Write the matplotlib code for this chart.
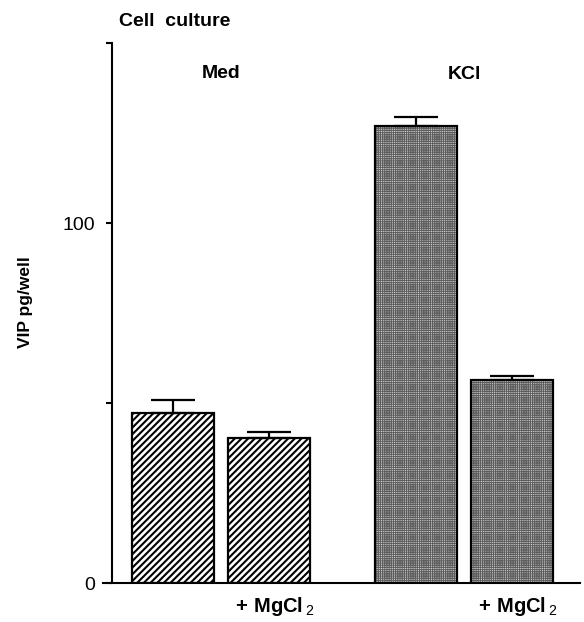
import matplotlib
matplotlib.use("Agg")
import matplotlib.pyplot as plt
from matplotlib.transforms import blended_transform_factory

plt.rcParams['font.family'] = ['Liberation Sans', 'DejaVu Sans']
plt.rcParams['mathtext.fontset'] = 'custom'
plt.rcParams['mathtext.rm'] = 'Liberation Sans'
plt.rcParams['mathtext.bf'] = 'Liberation Sans:bold'

# ---- data ----
groups = ["Med", "KCl"]
conditions = ["", "+ MgCl$_2$"]
positions = [0.0, 1.0, 2.52, 3.52]
values = [47.2, 40.3, 127.0, 56.4]
errors = [3.6, 1.6, 2.4, 1.1]
yticks = [0, 50, 100, 150]
yticklabels = ["0", "", "100", ""]

W, H = 584, 622
fig = plt.figure(figsize=(W / 100, H / 100), dpi=100)
ax_left, ax_right, ax_top, ax_bot = 103, 580, 43, 583
ax = fig.add_axes([ax_left / W, (H - ax_bot) / H, (ax_right - ax_left) / W, (ax_bot - ax_top) / H])

width = 0.85
# hatched (medium) bars
with plt.rc_context({'hatch.linewidth': 1.5}):
    ax.bar(positions[:2], values[:2], width=width, facecolor='white', edgecolor='black',
           hatch='/////', linewidth=0, zorder=2)
# stippled (KCl) bars
with plt.rc_context({'hatch.linewidth': 0.6}):
    ax.bar(positions[2:], values[2:], width=width, facecolor='#dadada', edgecolor='#5c5c5c',
           hatch='+++++++++', linewidth=0, zorder=2)
# outlines
ax.bar(positions, values, width=width, facecolor='none', edgecolor='black',
       linewidth=1.6, zorder=3)
# error bars (upper only)
ax.errorbar(positions, values, yerr=[[0] * 4, errors], fmt='none', ecolor='black',
            elinewidth=1.6, capsize=16, capthick=1.6, zorder=4)

ax.set_xlim(-0.725, 4.22)
ax.set_ylim(0, 150)
ax.set_yticks(yticks)
ax.set_yticklabels(yticklabels)
ax.set_xticks([])

for s in ['top', 'right']:
    ax.spines[s].set_visible(False)
ax.spines['left'].set_position(('axes', (112 - ax_left) / (ax_right - ax_left)))
ax.spines['left'].set_linewidth(1.5)
ax.spines['bottom'].set_linewidth(1.5)
ax.tick_params(axis='y', direction='out', length=4.5, width=1.5, pad=8, labelsize=14)

ax.set_ylabel("VIP pg/well", fontsize=12.5, fontweight='bold')
ax.yaxis.set_label_coords(-0.146, 0.52)

# group labels
ax.text((positions[0] + positions[1]) / 2, 141.4, groups[0], ha='center', va='center',
        fontsize=14, fontweight='bold')
ax.text((positions[2] + positions[3]) / 2, 141.2, groups[1], ha='center', va='center',
        fontsize=14, fontweight='bold')

# condition labels under bars
trans = blended_transform_factory(ax.transData, fig.transFigure)
for p in [positions[1], positions[3]]:
    ax.text(p + 0.06, (H - 606) / H, r'$\mathbf{+\ MgCl}\,_{2}$', transform=trans,
            ha='center', va='center', fontsize=14.5)

# title
fig.text(119 / W, (H - 21) / H, "Cell  culture", ha='left', va='center',
         fontsize=14, fontweight='bold')

fig.savefig("out.png", dpi=100)
